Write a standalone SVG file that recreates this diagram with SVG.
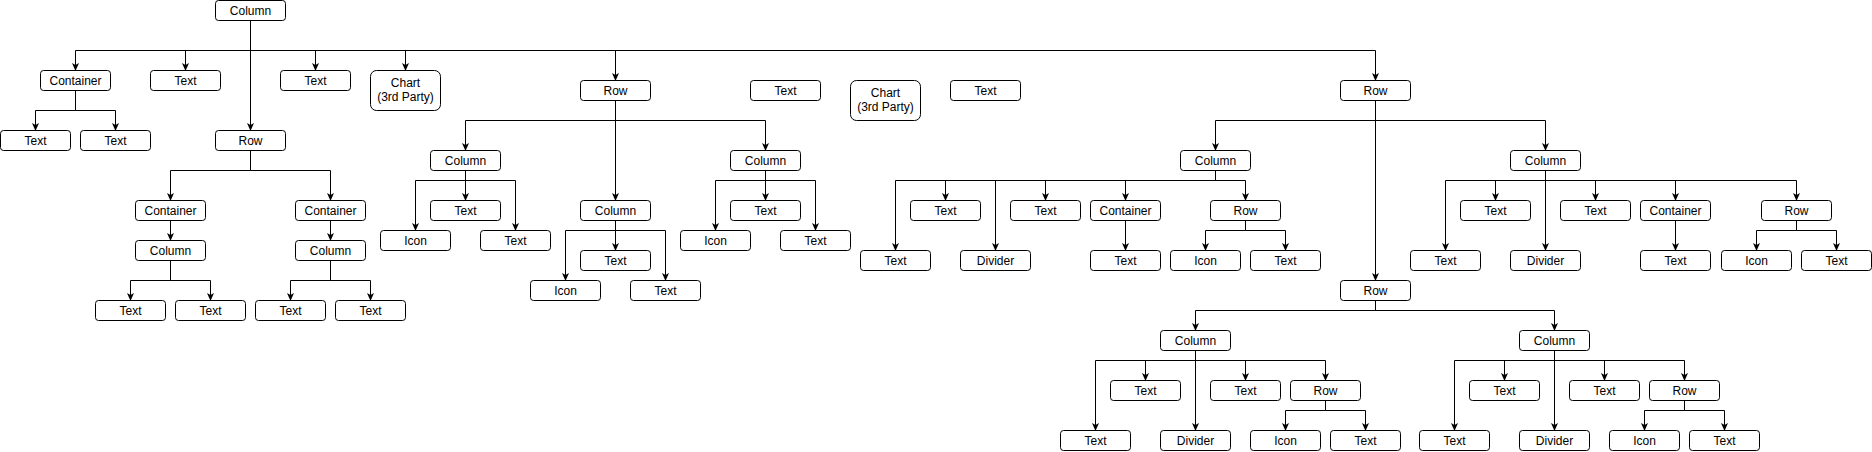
<svg xmlns="http://www.w3.org/2000/svg" width="1872" height="452" viewBox="0 0 1872 452">
<style>
.b{fill:#fff;stroke:#000;stroke-width:1}
text{font-family:"Liberation Sans",Arial,sans-serif;font-size:12px;fill:#000;text-anchor:middle}
.e{fill:none;stroke:#000;stroke-width:1;marker-end:url(#a)}
</style>
<defs>
<marker id="a" markerUnits="userSpaceOnUse" markerWidth="8" markerHeight="8" viewBox="0 0 8 8" refX="7.5" refY="4" orient="auto"><path d="M0,0.5 L8,4 L0,7.5 L2,4 Z" fill="#000"/></marker>
</defs>
<rect width="1872" height="452" fill="#fff"/>
<g id="connectors">
<path class="e" d="M250.5,20.5V50.5H75.5V70.5"/>
<path class="e" d="M250.5,20.5V50.5H185.5V70.5"/>
<path class="e" d="M250.5,20.5V50.5H315.5V70.5"/>
<path class="e" d="M250.5,20.5V50.5H405.5V70.5"/>
<path class="e" d="M250.5,20.5V50.5H615.5V80.5"/>
<path class="e" d="M250.5,20.5V50.5H1375.5V80.5"/>
<path class="e" d="M250.5,20.5V130.5"/>
<path class="e" d="M75.5,90.5V110.5H35.5V130.5"/>
<path class="e" d="M75.5,90.5V110.5H115.5V130.5"/>
<path class="e" d="M250.5,150.5V170.5H170.5V200.5"/>
<path class="e" d="M250.5,150.5V170.5H330.5V200.5"/>
<path class="e" d="M170.5,220.5V240.5"/>
<path class="e" d="M330.5,220.5V240.5"/>
<path class="e" d="M170.5,260.5V280.5H130.5V300.5"/>
<path class="e" d="M170.5,260.5V280.5H210.5V300.5"/>
<path class="e" d="M330.5,260.5V280.5H290.5V300.5"/>
<path class="e" d="M330.5,260.5V280.5H370.5V300.5"/>
<path class="e" d="M615.5,100.5V120.5H465.5V150.5"/>
<path class="e" d="M615.5,100.5V200.5"/>
<path class="e" d="M615.5,100.5V120.5H765.5V150.5"/>
<path class="e" d="M465.5,170.5V180.5H415.5V230.5"/>
<path class="e" d="M465.5,170.5V200.5"/>
<path class="e" d="M465.5,170.5V180.5H515.5V230.5"/>
<path class="e" d="M615.5,220.5V230.5H565.5V280.5"/>
<path class="e" d="M615.5,220.5V250.5"/>
<path class="e" d="M615.5,220.5V230.5H665.5V280.5"/>
<path class="e" d="M765.5,170.5V180.5H715.5V230.5"/>
<path class="e" d="M765.5,170.5V200.5"/>
<path class="e" d="M765.5,170.5V180.5H815.5V230.5"/>
<path class="e" d="M1375.5,100.5V120.5H1215.5V150.5"/>
<path class="e" d="M1375.5,100.5V120.5H1545.5V150.5"/>
<path class="e" d="M1375.5,100.5V280.5"/>
<path class="e" d="M1215.5,170.5V180.5H895.5V250.5"/>
<path class="e" d="M1215.5,170.5V180.5H945.5V200.5"/>
<path class="e" d="M1215.5,170.5V180.5H995.5V250.5"/>
<path class="e" d="M1215.5,170.5V180.5H1045.5V200.5"/>
<path class="e" d="M1215.5,170.5V180.5H1125.5V200.5"/>
<path class="e" d="M1215.5,170.5V180.5H1245.5V200.5"/>
<path class="e" d="M1125.5,220.5V250.5"/>
<path class="e" d="M1245.5,220.5V230.5H1205.5V250.5"/>
<path class="e" d="M1245.5,220.5V230.5H1285.5V250.5"/>
<path class="e" d="M1545.5,170.5V180.5H1445.5V250.5"/>
<path class="e" d="M1545.5,170.5V180.5H1495.5V200.5"/>
<path class="e" d="M1545.5,170.5V250.5"/>
<path class="e" d="M1545.5,170.5V180.5H1595.5V200.5"/>
<path class="e" d="M1545.5,170.5V180.5H1675.5V200.5"/>
<path class="e" d="M1545.5,170.5V180.5H1796.5V200.5"/>
<path class="e" d="M1675.5,220.5V250.5"/>
<path class="e" d="M1796.5,220.5V230.5H1756.5V250.5"/>
<path class="e" d="M1796.5,220.5V230.5H1836.5V250.5"/>
<path class="e" d="M1375.5,300.5V310.5H1195.5V330.5"/>
<path class="e" d="M1375.5,300.5V310.5H1554.5V330.5"/>
<path class="e" d="M1195.5,350.5V360.5H1095.5V430.5"/>
<path class="e" d="M1195.5,350.5V360.5H1145.5V380.5"/>
<path class="e" d="M1195.5,350.5V430.5"/>
<path class="e" d="M1195.5,350.5V360.5H1245.5V380.5"/>
<path class="e" d="M1195.5,350.5V360.5H1325.5V380.5"/>
<path class="e" d="M1325.5,400.5V410.5H1285.5V430.5"/>
<path class="e" d="M1325.5,400.5V410.5H1365.5V430.5"/>
<path class="e" d="M1554.5,350.5V360.5H1454.5V430.5"/>
<path class="e" d="M1554.5,350.5V360.5H1504.5V380.5"/>
<path class="e" d="M1554.5,350.5V430.5"/>
<path class="e" d="M1554.5,350.5V360.5H1604.5V380.5"/>
<path class="e" d="M1554.5,350.5V360.5H1684.5V380.5"/>
<path class="e" d="M1684.5,400.5V410.5H1644.5V430.5"/>
<path class="e" d="M1684.5,400.5V410.5H1724.5V430.5"/>
</g>
<g id="n0"><rect class="b" x="215.5" y="0.5" width="70" height="20" rx="3"/><text x="250.5" y="14.5">Column</text></g>
<g id="n1"><rect class="b" x="40.5" y="70.5" width="70" height="20" rx="3"/><text x="75.5" y="84.5">Container</text></g>
<g id="n2"><rect class="b" x="150.5" y="70.5" width="70" height="20" rx="3"/><text x="185.5" y="84.5">Text</text></g>
<g id="n3"><rect class="b" x="280.5" y="70.5" width="70" height="20" rx="3"/><text x="315.5" y="84.5">Text</text></g>
<g id="n4"><rect class="b" x="370.5" y="70.5" width="70" height="40" rx="6"/><text x="405.5" y="87">Chart</text><text x="405.5" y="101">(3rd Party)</text></g>
<g id="n5"><rect class="b" x="580.5" y="80.5" width="70" height="20" rx="3"/><text x="615.5" y="94.5">Row</text></g>
<g id="n6"><rect class="b" x="750.5" y="80.5" width="70" height="20" rx="3"/><text x="785.5" y="94.5">Text</text></g>
<g id="n7"><rect class="b" x="850.5" y="80.5" width="70" height="40" rx="6"/><text x="885.5" y="97">Chart</text><text x="885.5" y="111">(3rd Party)</text></g>
<g id="n8"><rect class="b" x="950.5" y="80.5" width="70" height="20" rx="3"/><text x="985.5" y="94.5">Text</text></g>
<g id="n9"><rect class="b" x="1340.5" y="80.5" width="70" height="20" rx="3"/><text x="1375.5" y="94.5">Row</text></g>
<g id="n10"><rect class="b" x="0.5" y="130.5" width="70" height="20" rx="3"/><text x="35.5" y="144.5">Text</text></g>
<g id="n11"><rect class="b" x="80.5" y="130.5" width="70" height="20" rx="3"/><text x="115.5" y="144.5">Text</text></g>
<g id="n12"><rect class="b" x="215.5" y="130.5" width="70" height="20" rx="3"/><text x="250.5" y="144.5">Row</text></g>
<g id="n13"><rect class="b" x="135.5" y="200.5" width="70" height="20" rx="3"/><text x="170.5" y="214.5">Container</text></g>
<g id="n14"><rect class="b" x="295.5" y="200.5" width="70" height="20" rx="3"/><text x="330.5" y="214.5">Container</text></g>
<g id="n15"><rect class="b" x="135.5" y="240.5" width="70" height="20" rx="3"/><text x="170.5" y="254.5">Column</text></g>
<g id="n16"><rect class="b" x="295.5" y="240.5" width="70" height="20" rx="3"/><text x="330.5" y="254.5">Column</text></g>
<g id="n17"><rect class="b" x="95.5" y="300.5" width="70" height="20" rx="3"/><text x="130.5" y="314.5">Text</text></g>
<g id="n18"><rect class="b" x="175.5" y="300.5" width="70" height="20" rx="3"/><text x="210.5" y="314.5">Text</text></g>
<g id="n19"><rect class="b" x="255.5" y="300.5" width="70" height="20" rx="3"/><text x="290.5" y="314.5">Text</text></g>
<g id="n20"><rect class="b" x="335.5" y="300.5" width="70" height="20" rx="3"/><text x="370.5" y="314.5">Text</text></g>
<g id="n21"><rect class="b" x="430.5" y="150.5" width="70" height="20" rx="3"/><text x="465.5" y="164.5">Column</text></g>
<g id="n22"><rect class="b" x="580.5" y="200.5" width="70" height="20" rx="3"/><text x="615.5" y="214.5">Column</text></g>
<g id="n23"><rect class="b" x="730.5" y="150.5" width="70" height="20" rx="3"/><text x="765.5" y="164.5">Column</text></g>
<g id="n24"><rect class="b" x="380.5" y="230.5" width="70" height="20" rx="3"/><text x="415.5" y="244.5">Icon</text></g>
<g id="n25"><rect class="b" x="430.5" y="200.5" width="70" height="20" rx="3"/><text x="465.5" y="214.5">Text</text></g>
<g id="n26"><rect class="b" x="480.5" y="230.5" width="70" height="20" rx="3"/><text x="515.5" y="244.5">Text</text></g>
<g id="n27"><rect class="b" x="530.5" y="280.5" width="70" height="20" rx="3"/><text x="565.5" y="294.5">Icon</text></g>
<g id="n28"><rect class="b" x="580.5" y="250.5" width="70" height="20" rx="3"/><text x="615.5" y="264.5">Text</text></g>
<g id="n29"><rect class="b" x="630.5" y="280.5" width="70" height="20" rx="3"/><text x="665.5" y="294.5">Text</text></g>
<g id="n30"><rect class="b" x="680.5" y="230.5" width="70" height="20" rx="3"/><text x="715.5" y="244.5">Icon</text></g>
<g id="n31"><rect class="b" x="730.5" y="200.5" width="70" height="20" rx="3"/><text x="765.5" y="214.5">Text</text></g>
<g id="n32"><rect class="b" x="780.5" y="230.5" width="70" height="20" rx="3"/><text x="815.5" y="244.5">Text</text></g>
<g id="n33"><rect class="b" x="1180.5" y="150.5" width="70" height="20" rx="3"/><text x="1215.5" y="164.5">Column</text></g>
<g id="n34"><rect class="b" x="860.5" y="250.5" width="70" height="20" rx="3"/><text x="895.5" y="264.5">Text</text></g>
<g id="n35"><rect class="b" x="910.5" y="200.5" width="70" height="20" rx="3"/><text x="945.5" y="214.5">Text</text></g>
<g id="n36"><rect class="b" x="960.5" y="250.5" width="70" height="20" rx="3"/><text x="995.5" y="264.5">Divider</text></g>
<g id="n37"><rect class="b" x="1010.5" y="200.5" width="70" height="20" rx="3"/><text x="1045.5" y="214.5">Text</text></g>
<g id="n38"><rect class="b" x="1090.5" y="200.5" width="70" height="20" rx="3"/><text x="1125.5" y="214.5">Container</text></g>
<g id="n39"><rect class="b" x="1210.5" y="200.5" width="70" height="20" rx="3"/><text x="1245.5" y="214.5">Row</text></g>
<g id="n40"><rect class="b" x="1090.5" y="250.5" width="70" height="20" rx="3"/><text x="1125.5" y="264.5">Text</text></g>
<g id="n41"><rect class="b" x="1170.5" y="250.5" width="70" height="20" rx="3"/><text x="1205.5" y="264.5">Icon</text></g>
<g id="n42"><rect class="b" x="1250.5" y="250.5" width="70" height="20" rx="3"/><text x="1285.5" y="264.5">Text</text></g>
<g id="n43"><rect class="b" x="1510.5" y="150.5" width="70" height="20" rx="3"/><text x="1545.5" y="164.5">Column</text></g>
<g id="n44"><rect class="b" x="1410.5" y="250.5" width="70" height="20" rx="3"/><text x="1445.5" y="264.5">Text</text></g>
<g id="n45"><rect class="b" x="1460.5" y="200.5" width="70" height="20" rx="3"/><text x="1495.5" y="214.5">Text</text></g>
<g id="n46"><rect class="b" x="1510.5" y="250.5" width="70" height="20" rx="3"/><text x="1545.5" y="264.5">Divider</text></g>
<g id="n47"><rect class="b" x="1560.5" y="200.5" width="70" height="20" rx="3"/><text x="1595.5" y="214.5">Text</text></g>
<g id="n48"><rect class="b" x="1640.5" y="200.5" width="70" height="20" rx="3"/><text x="1675.5" y="214.5">Container</text></g>
<g id="n49"><rect class="b" x="1761.5" y="200.5" width="70" height="20" rx="3"/><text x="1796.5" y="214.5">Row</text></g>
<g id="n50"><rect class="b" x="1640.5" y="250.5" width="70" height="20" rx="3"/><text x="1675.5" y="264.5">Text</text></g>
<g id="n51"><rect class="b" x="1721.5" y="250.5" width="70" height="20" rx="3"/><text x="1756.5" y="264.5">Icon</text></g>
<g id="n52"><rect class="b" x="1801.5" y="250.5" width="70" height="20" rx="3"/><text x="1836.5" y="264.5">Text</text></g>
<g id="n53"><rect class="b" x="1340.5" y="280.5" width="70" height="20" rx="3"/><text x="1375.5" y="294.5">Row</text></g>
<g id="n54"><rect class="b" x="1160.5" y="330.5" width="70" height="20" rx="3"/><text x="1195.5" y="344.5">Column</text></g>
<g id="n55"><rect class="b" x="1060.5" y="430.5" width="70" height="20" rx="3"/><text x="1095.5" y="444.5">Text</text></g>
<g id="n56"><rect class="b" x="1110.5" y="380.5" width="70" height="20" rx="3"/><text x="1145.5" y="394.5">Text</text></g>
<g id="n57"><rect class="b" x="1160.5" y="430.5" width="70" height="20" rx="3"/><text x="1195.5" y="444.5">Divider</text></g>
<g id="n58"><rect class="b" x="1210.5" y="380.5" width="70" height="20" rx="3"/><text x="1245.5" y="394.5">Text</text></g>
<g id="n59"><rect class="b" x="1290.5" y="380.5" width="70" height="20" rx="3"/><text x="1325.5" y="394.5">Row</text></g>
<g id="n60"><rect class="b" x="1250.5" y="430.5" width="70" height="20" rx="3"/><text x="1285.5" y="444.5">Icon</text></g>
<g id="n61"><rect class="b" x="1330.5" y="430.5" width="70" height="20" rx="3"/><text x="1365.5" y="444.5">Text</text></g>
<g id="n62"><rect class="b" x="1519.5" y="330.5" width="70" height="20" rx="3"/><text x="1554.5" y="344.5">Column</text></g>
<g id="n63"><rect class="b" x="1419.5" y="430.5" width="70" height="20" rx="3"/><text x="1454.5" y="444.5">Text</text></g>
<g id="n64"><rect class="b" x="1469.5" y="380.5" width="70" height="20" rx="3"/><text x="1504.5" y="394.5">Text</text></g>
<g id="n65"><rect class="b" x="1519.5" y="430.5" width="70" height="20" rx="3"/><text x="1554.5" y="444.5">Divider</text></g>
<g id="n66"><rect class="b" x="1569.5" y="380.5" width="70" height="20" rx="3"/><text x="1604.5" y="394.5">Text</text></g>
<g id="n67"><rect class="b" x="1649.5" y="380.5" width="70" height="20" rx="3"/><text x="1684.5" y="394.5">Row</text></g>
<g id="n68"><rect class="b" x="1609.5" y="430.5" width="70" height="20" rx="3"/><text x="1644.5" y="444.5">Icon</text></g>
<g id="n69"><rect class="b" x="1689.5" y="430.5" width="70" height="20" rx="3"/><text x="1724.5" y="444.5">Text</text></g>
</svg>
